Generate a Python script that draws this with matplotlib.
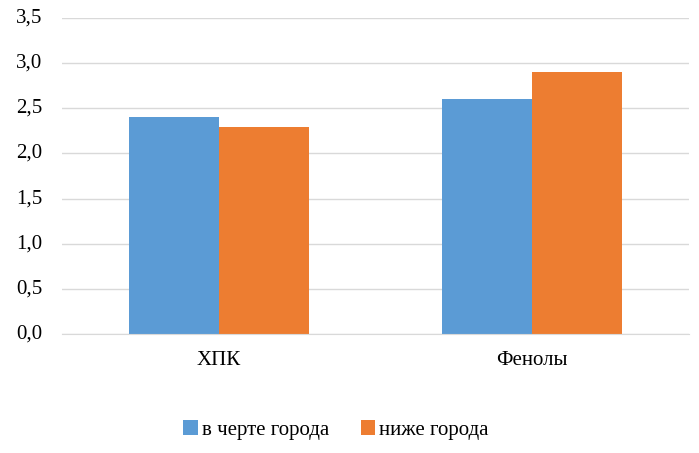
import numpy as np
import matplotlib.pyplot as plt
import matplotlib.transforms as mtransforms

FONT = 'Liberation Serif'

categories = ['ХПК', 'Фенолы']
series_names = ['в черте города', 'ниже города']
v_city = [2.4, 2.6]
v_below = [2.29, 2.9]
yticks = [0.0, 0.5, 1.0, 1.5, 2.0, 2.5, 3.0, 3.5]

fig = plt.figure(figsize=(6.99, 4.53), dpi=100)
ax = fig.add_axes([62 / 699, 1 - 334 / 453, 627 / 699, 316 / 453])

x = np.arange(len(categories))
w = 0.287
ax.bar(x - w / 2, v_city, w, color='#5B9BD5', label=series_names[0], zorder=3)
ax.bar(x + w / 2, v_below, w, color='#ED7D31', label=series_names[1], zorder=3)

ax.set_xlim(-0.5, 1.5)
ax.set_ylim(0, 3.5)
ax.set_yticks(yticks)
ax.set_xticks(x)
ax.set_yticklabels([])
ax.set_xticklabels([])
ax.tick_params(length=0)

# labels drawn as plain text so the serif face sticks
ytr = mtransforms.blended_transform_factory(ax.transAxes, ax.transData)
ytr = ytr + mtransforms.ScaledTranslation(-14 / 72, 0, fig.dpi_scale_trans)
for t in yticks:
    ax.text(0, t, ('%.1f' % t).replace('.', ','), transform=ytr,
            ha='right', va='center', fontsize=15, family=FONT)
xtr = mtransforms.blended_transform_factory(ax.transData, ax.transAxes)
xtr = xtr + mtransforms.ScaledTranslation(0, -12 / 72, fig.dpi_scale_trans)
for xi, c in zip(x, categories):
    ax.text(xi, 0, c, transform=xtr, ha='center', va='top',
            fontsize=15, family=FONT)

ax.grid(axis='y', color='#d9d9d9', linewidth=1, zorder=0)
for s in ['top', 'right', 'left']:
    ax.spines[s].set_visible(False)
ax.spines['bottom'].set_color('#d9d9d9')
ax.spines['bottom'].set_zorder(4)

leg = fig.legend(loc='center', bbox_to_anchor=(336 / 699, 1 - 430 / 453), ncol=2,
                 frameon=False, prop={'family': FONT, 'size': 15},
                 handlelength=0.7, handleheight=0.7,
                 handletextpad=0.2, columnspacing=1.5)
for t in leg.get_texts():
    t.set_family(FONT)

plt.savefig('out.png', dpi=100)
